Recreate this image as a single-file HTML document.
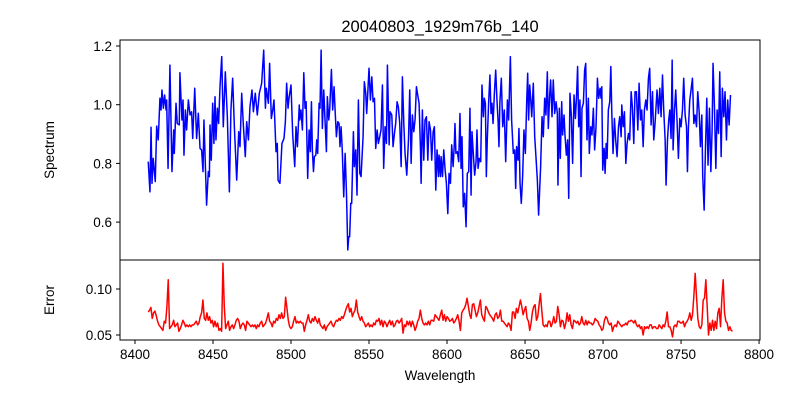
<!DOCTYPE html>
<html>
<head>
<meta charset="utf-8">
<style>
body{margin:0;background:#fff;}
svg text{font-family:"Liberation Sans","DejaVu Sans",sans-serif;fill:#000;}
</style>
</head>
<body>
<svg id="chart" width="800" height="400" viewBox="0 0 800 400" xmlns="http://www.w3.org/2000/svg">
<rect width="800" height="400" fill="#fff"/>
<text x="440" y="32" font-size="16.5" text-anchor="middle">20040803_1929m76b_140</text>
<defs>
<clipPath id="clipTop"><rect x="120" y="40" width="640" height="220"/></clipPath>
<clipPath id="clipBot"><rect x="120" y="260" width="640" height="80"/></clipPath>
</defs>
<g id="topAxes"></g>
<g id="botAxes"></g>
<text transform="translate(54,150) rotate(-90)" font-size="13.5" text-anchor="middle">Spectrum</text>
<text transform="translate(54,300) rotate(-90)" font-size="13.5" text-anchor="middle">Error</text>
<text x="440" y="380" font-size="13.5" text-anchor="middle">Wavelength</text>
</svg>
<script>
const fluxWl=[8408.5,8409.6,8410.3,8410.9,8411.7,8413.0,8413.9,8414.9,8416.0,8416.7,8417.3,8418.2,8419.0,8419.9,8420.3,8421.2,8422.4,8423.7,8424.8,8425.2,8426.3,8427.1,8428.4,8428.8,8430.1,8430.8,8431.4,8432.3,8433.1,8434.2,8435.3,8436.3,8437.0,8438.3,8439.5,8440.6,8441.7,8442.7,8443.6,8444.2,8445.9,8447.0,8447.7,8448.1,8448.9,8449.8,8450.6,8451.3,8451.9,8452.8,8453.6,8454.5,8455.6,8456.6,8457.9,8459.2,8460.5,8461.5,8462.6,8463.7,8465.2,8466.5,8467.3,8468.4,8469.4,8470.7,8471.6,8472.7,8473.7,8475.0,8475.9,8477.1,8478.4,8479.7,8481.2,8482.5,8483.6,8484.2,8485.5,8486.3,8487.4,8488.3,8489.1,8490.4,8491.2,8491.7,8492.9,8494.2,8495.5,8496.4,8497.2,8498.1,8498.7,8500.0,8501.1,8502.4,8503.2,8504.1,8505.3,
8505.6,8506.4,8507.3,8508.2,8509.0,8509.7,8510.7,8511.6,8512.4,8513.1,8513.7,8514.4,8515.0,8515.9,8516.5,8517.1,8518.0,8518.6,8519.3,8520.1,8521.0,8521.8,8522.7,8523.3,8524.2,8524.8,8525.9,8526.7,8527.6,8528.2,8529.1,8530.0,8530.8,8531.4,8532.1,8532.9,8533.8,8534.7,8535.5,8536.4,8537.0,8537.6,8538.3,8538.9,8540.0,8540.6,8541.5,8542.3,8543.2,8544.1,8544.9,8546.2,8547.0,8547.9,8548.5,8549.2,8550.0,8550.9,8551.8,8552.6,8553.5,8554.3,8555.2,8556.0,8556.9,8557.7,8558.6,8559.4,8560.3,8561.2,8561.8,8562.9,8563.5,8564.6,8565.4,8566.3,8567.1,8568.0,8568.8,8569.7,8570.6,8571.4,8572.3,8573.1,8574.2,8575.3,8576.1,8577.0,8577.8,8578.7,8579.5,8580.4,8581.2,8582.1,8583.0,8583.4,8584.2,8585.1,8585.9,8586.8,8587.7,8588.5,8589.4,8590.2,8591.1,8591.9,8592.8,8593.6,8594.5,8594.9,8595.8,8596.2,8597.1,8597.9,8598.8,8599.6,8600.5,8601.3,8602.2,8603.0,8603.9,8604.7,
8605.1,8605.7,8606.6,8607.5,8608.3,8609.0,8609.6,8610.4,8611.3,8612.2,8613.0,8613.9,8614.7,8615.4,8616.0,8616.9,8617.7,8618.6,8619.2,8619.9,8620.7,8621.6,8622.4,8623.3,8623.9,8624.6,8625.2,8625.8,8626.7,8627.5,8628.2,8628.8,8629.5,8630.3,8631.2,8632.0,8632.7,8633.3,8633.9,8634.8,8635.7,8636.7,8637.6,8638.7,8639.5,8640.6,8641.4,8642.5,8643.4,8644.0,8644.6,8645.5,8646.1,8646.8,8647.6,8648.5,8649.3,8650.2,8651.1,8651.7,8652.3,8653.0,8653.6,8654.3,8655.3,8656.2,8657.0,8657.9,8658.7,8660.0,8660.9,8661.7,8662.6,8663.4,8664.3,8664.9,8665.8,8666.4,8667.3,8668.1,8669.0,8669.9,8670.7,8671.1,8672.0,8672.6,8673.5,8674.1,8675.0,8675.6,8676.5,8677.3,8678.0,8678.8,8679.7,8680.5,8681.4,8682.3,8683.1,8683.7,8684.4,8685.2,8685.9,8686.5,8687.4,8688.2,8688.9,8689.7,8690.6,8691.2,8692.1,8692.9,8693.8,8694.6,8695.5,8696.4,8697.2,8698.1,
8698.7,8699.2,8699.8,8700.7,8701.3,8702.0,8702.6,8703.4,8704.3,8705.0,8705.6,8706.4,8707.3,8708.1,8709.0,8709.9,8710.7,8711.6,8712.0,8712.9,8713.7,8714.6,8715.4,8716.3,8717.1,8718.0,8718.8,8719.7,8720.5,8721.4,8722.3,8723.1,8724.0,8724.8,8725.7,8726.5,8727.4,8728.2,8729.1,8729.9,8730.8,8731.7,8732.5,8733.4,8734.6,8735.5,8736.4,8737.2,8738.1,8738.9,8739.8,8740.4,8741.3,8742.1,8742.8,8743.6,8744.3,8744.9,8745.8,8746.6,8747.5,8748.3,8749.2,8750.0,8750.9,8751.7,8752.6,8753.5,8754.1,8754.7,8755.6,8756.4,8757.3,8758.2,8759.0,8759.9,8760.7,8761.6,8762.4,8763.3,8763.9,8764.8,8765.6,8766.5,8767.3,8768.2,8769.1,8769.9,8770.5,8771.4,8772.3,8773.1,8774.0,8774.8,8775.7,8776.5,8777.4,8778.2,8779.1,8779.9,8780.8,8781.7];
const fluxVal=[0.806,0.703,0.923,0.732,0.817,0.738,0.927,0.880,1.022,0.982,1.050,0.988,1.033,0.982,1.016,0.783,1.135,0.772,0.914,0.834,1.005,0.936,0.931,1.109,0.948,1.016,0.828,0.982,0.914,1.016,0.965,0.976,0.885,1.056,0.885,0.971,0.851,0.846,0.772,0.948,0.658,0.772,0.755,0.931,0.811,1.005,0.868,1.027,0.880,0.988,0.936,1.061,1.164,0.925,1.112,0.959,0.703,0.982,1.090,0.925,0.743,0.908,0.857,1.039,0.936,0.823,0.942,0.880,0.993,1.050,0.976,1.039,0.965,1.039,1.073,1.186,0.988,1.056,1.005,1.141,0.953,0.982,1.016,0.840,0.868,0.743,0.732,0.868,0.885,0.942,1.073,0.988,1.022,1.067,0.897,0.789,0.925,0.857,0.999,
0.948,0.982,0.914,1.109,0.988,1.010,0.749,0.914,0.840,1.010,0.846,0.772,0.823,0.828,0.880,0.834,1.005,0.988,1.186,0.919,1.050,0.948,0.840,1.027,0.948,0.982,1.120,0.982,1.061,0.988,0.891,0.942,0.936,0.857,0.925,0.840,0.686,0.834,0.709,0.505,0.550,0.550,0.664,0.664,0.908,0.789,0.846,0.692,1.016,0.766,0.755,0.891,1.078,1.039,0.970,1.039,1.124,1.016,1.095,1.010,1.022,0.851,0.914,0.868,0.891,0.914,1.067,0.783,0.925,0.868,1.135,0.863,0.976,0.965,0.857,0.902,0.936,1.010,0.993,0.936,0.789,1.095,0.936,0.834,0.760,0.880,1.050,0.800,0.965,0.908,0.948,1.061,1.033,1.005,0.846,0.732,0.982,0.811,0.948,0.959,0.811,0.942,0.914,0.811,0.908,0.925,0.709,0.846,0.755,0.828,0.755,0.823,0.755,0.846,0.777,0.732,0.629,0.766,0.732,0.863,0.789,0.868,
0.936,0.834,0.840,0.806,0.970,0.783,0.891,0.652,0.698,0.584,0.766,0.772,0.988,0.692,0.908,0.828,0.760,0.806,0.914,0.783,0.817,0.806,1.067,0.959,1.022,1.005,0.755,0.880,1.010,1.101,0.970,1.005,0.936,1.033,1.118,1.016,0.948,0.857,1.010,1.090,0.925,0.982,0.806,1.016,0.948,1.164,0.948,0.834,0.846,0.715,0.857,0.811,0.919,0.732,0.664,0.760,0.914,0.834,1.016,1.107,0.948,1.067,1.022,0.959,1.073,0.891,0.823,0.743,0.624,0.789,0.959,0.891,1.022,0.965,1.112,0.919,1.033,1.084,0.959,1.084,0.970,1.010,0.970,0.726,0.988,0.817,1.010,0.897,0.965,0.897,0.828,0.880,0.681,1.039,0.959,0.800,1.033,0.953,1.039,1.130,0.925,1.016,0.755,0.988,1.005,1.118,1.141,0.880,1.022,0.834,0.925,0.897,0.988,0.846,0.925,1.090,1.022,1.056,
1.022,1.061,0.777,0.851,0.766,0.868,0.817,0.982,1.010,1.130,0.976,0.834,0.953,0.880,0.823,0.925,0.959,0.891,0.999,0.925,0.976,0.800,0.868,0.902,0.880,1.044,0.993,0.868,1.044,1.044,0.914,1.073,0.948,0.982,0.857,0.982,1.016,0.982,1.090,1.124,0.931,1.044,0.880,0.942,1.050,0.970,1.056,0.959,1.101,0.982,0.880,0.726,0.880,0.948,0.982,0.885,1.152,0.846,0.982,1.050,0.936,0.817,0.953,0.925,0.982,1.090,0.965,0.925,0.772,0.919,1.016,1.050,1.090,0.936,0.965,0.925,1.044,0.976,0.857,0.965,0.755,0.641,0.840,1.022,0.794,0.988,0.772,0.914,1.141,0.993,0.783,0.982,0.902,1.112,0.823,1.056,0.959,1.044,0.880,1.016,0.931,1.033];
const errStart=8408.5;
const errStep=0.855;
const errVal=[0.075,0.077,0.080,0.068,0.074,0.076,0.071,0.065,0.061,0.059,0.057,0.055,0.065,0.063,0.081,0.110,0.057,0.059,0.061,0.066,0.059,0.061,0.063,0.054,0.057,0.061,0.066,0.063,0.059,0.061,0.059,0.061,0.059,0.061,0.061,0.063,0.065,0.061,0.063,0.070,0.074,0.088,0.068,0.066,0.074,0.066,0.070,0.063,0.066,0.059,0.065,0.059,0.063,0.055,0.057,0.054,0.128,0.081,0.057,0.061,0.065,0.055,0.059,0.061,0.057,0.061,0.066,0.068,0.065,0.057,0.061,0.063,0.061,0.055,0.065,0.063,0.061,0.059,0.061,0.059,0.061,0.057,0.061,0.059,0.063,0.065,0.059,0.061,0.063,0.068,0.074,0.065,0.063,0.059,0.065,0.063,0.068,0.066,0.072,0.068,0.074,0.068,0.070,0.091,0.079,0.066,0.059,0.057,0.059,0.065,0.070,0.063,0.065,0.063,0.065,0.063,0.063,0.054,0.061,0.066,0.072,0.065,0.063,0.068,0.065,0.070,0.066,0.063,0.068,0.061,0.059,0.057,0.061,0.055,0.059,0.061,0.063,0.065,0.061,0.059,0.063,0.066,0.065,0.068,0.066,0.070,0.068,0.072,0.077,0.081,0.084,0.075,0.079,0.070,0.074,0.077,0.088,0.075,0.070,0.066,0.070,0.065,0.063,0.059,0.061,0.063,0.059,0.061,0.059,0.063,0.061,0.066,0.065,0.068,0.061,0.066,0.059,0.065,0.063,0.059,0.063,0.066,0.061,0.065,0.059,0.061,0.065,0.066,0.063,0.065,0.068,0.052,0.061,0.059,0.065,0.061,0.065,0.059,0.065,0.061,0.055,0.059,0.065,0.068,0.077,0.068,0.063,0.061,0.063,0.061,0.065,0.061,0.066,0.066,0.065,0.072,0.070,0.068,0.066,
0.072,0.077,0.066,0.072,0.065,0.070,0.068,0.065,0.066,0.068,0.063,0.065,0.068,0.072,0.065,0.055,0.074,0.077,0.079,0.083,0.090,0.081,0.072,0.068,0.083,0.084,0.077,0.070,0.074,0.081,0.088,0.072,0.068,0.065,0.081,0.079,0.075,0.072,0.070,0.068,0.065,0.072,0.074,0.068,0.070,0.077,0.065,0.065,0.063,0.061,0.059,0.063,0.061,0.055,0.075,0.075,0.068,0.079,0.074,0.081,0.088,0.081,0.072,0.077,0.081,0.068,0.065,0.055,0.063,0.075,0.081,0.083,0.066,0.070,0.083,0.095,0.077,0.061,0.059,0.061,0.059,0.065,0.065,0.059,0.063,0.070,0.063,0.065,0.081,0.072,0.059,0.066,0.065,0.057,0.063,0.074,0.065,0.072,0.061,0.057,0.066,0.065,0.063,0.065,0.061,0.063,0.070,0.063,0.061,0.066,0.061,0.065,0.063,0.063,0.061,0.063,0.068,0.066,0.065,0.061,0.059,0.055,0.057,0.066,0.070,0.068,0.063,0.061,0.063,0.054,0.059,0.061,0.059,0.065,0.063,0.061,0.059,0.061,0.061,0.063,0.061,0.065,0.065,0.066,0.065,0.063,0.066,0.061,0.059,0.061,0.057,0.059,0.050,0.059,0.057,0.059,0.057,0.061,0.061,0.057,0.059,0.059,0.057,0.057,0.061,0.059,0.057,0.061,0.059,0.065,0.075,0.059,0.059,0.055,0.048,0.059,0.061,0.059,0.065,0.065,0.063,0.063,0.065,0.059,0.063,0.065,0.068,0.074,0.066,0.072,0.092,0.117,0.092,0.068,0.059,0.057,0.061,0.088,0.090,0.110,0.081,0.050,0.063,0.055,0.066,0.055,0.065,0.057,0.074,0.079,0.059,0.090,0.110,0.074,0.065,0.063,0.055,0.059,0.055,0.054];
const xTicks=[8400,8450,8500,8550,8600,8650,8700,8750,8800];
const topTicks=[0.6,0.8,1.0,1.2];
const botTicks=[0.05,0.10];
const botTickLabels=["0.05","0.10"];

const NS="http://www.w3.org/2000/svg";
const X0=120,X1=760,XMIN=8390.4,XMAX=8800.6;
function xs(w){return X0+(w-XMIN)/(XMAX-XMIN)*(X1-X0);}
function ysTop(v){return 46+(1.2-v)*293.5;}
function ysBot(v){return 289-(v-0.10)*920;}
function mk(tag,attrs,parent){const e=document.createElementNS(NS,tag);for(const k in attrs)e.setAttribute(k,attrs[k]);parent.appendChild(e);return e;}
const topG=document.getElementById('topAxes');
const botG=document.getElementById('botAxes');

let d="";
for(let i=0;i<fluxWl.length;i++){d+=(i?"L":"M")+xs(fluxWl[i]).toFixed(2)+","+ysTop(fluxVal[i]).toFixed(2);}
const fl=mk('path',{d:d,fill:"none",stroke:"#0000ff","stroke-width":"1.5","stroke-linejoin":"round","clip-path":"url(#clipTop)"},topG);



d="";
for(let i=0;i<errVal.length;i++){d+=(i?"L":"M")+xs(errStart+i*errStep).toFixed(2)+","+ysBot(errVal[i]).toFixed(2);}
const el=mk('path',{d:d,fill:"none",stroke:"#ff0000","stroke-width":"1.5","stroke-linejoin":"round","clip-path":"url(#clipBot)"},botG);



const f1=mk('rect',{x:120,y:40,width:640,height:220,fill:"none",stroke:"#000","stroke-width":"1"},topG);


const f2=mk('rect',{x:120,y:260,width:640,height:80,fill:"none",stroke:"#000","stroke-width":"1"},botG);



topTicks.forEach(v=>{
  const y=ysTop(v);
  const t=mk('line',{x1:120,x2:116,y1:y,y2:y,stroke:"#000","stroke-width":"1"},topG);
  
  
  const l=mk('text',{x:112,y:y+5,"font-size":"13.5","text-anchor":"end"},topG);
  l.textContent=v.toFixed(1);
  
  
});
botTicks.forEach((v,i)=>{
  const y=ysBot(v);
  const t=mk('line',{x1:120,x2:116,y1:y,y2:y,stroke:"#000","stroke-width":"1"},botG);
  
  
  const l=mk('text',{x:112,y:y+5,"font-size":"13.5","text-anchor":"end"},botG);
  l.textContent=botTickLabels[i];
  
  
});
xTicks.forEach(w=>{
  const x=xs(w);
  const t=mk('line',{x1:x,x2:x,y1:340,y2:344,stroke:"#000","stroke-width":"1"},botG);
  
  
  const l=mk('text',{x:x,y:359,"font-size":"13.5","text-anchor":"middle"},botG);
  l.textContent=String(w);
  
  
});
</script>
</body>
</html>
